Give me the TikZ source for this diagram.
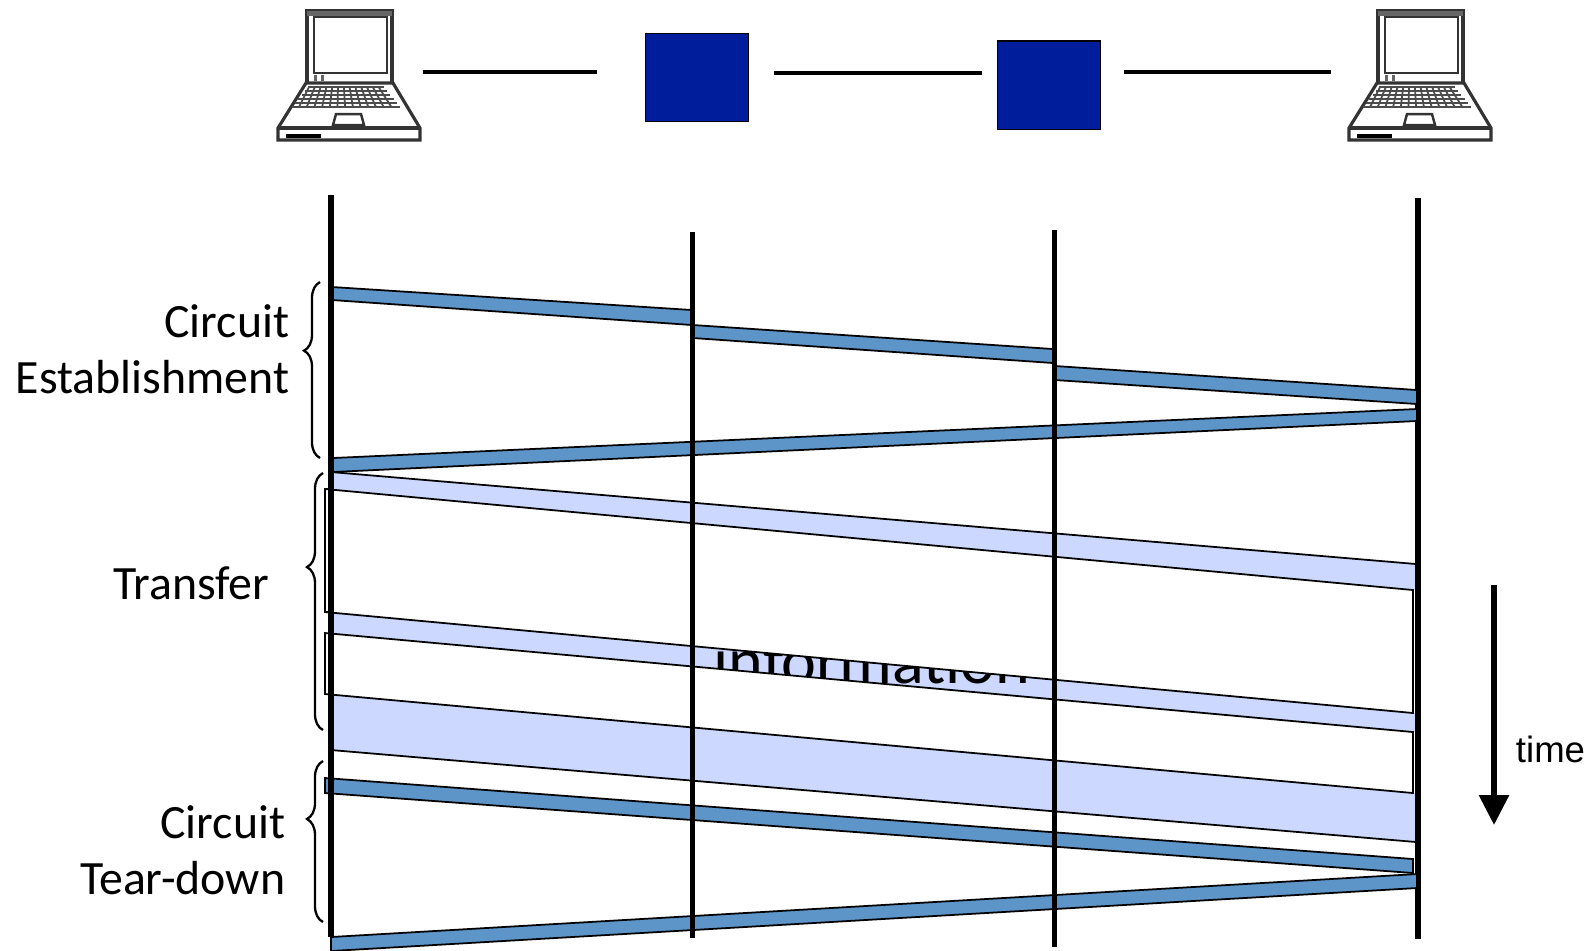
\documentclass[tikz,border=0pt]{standalone}
\usepackage{fontspec}
\setmainfont{Carlito}[Ligatures=NoCommon]
\newfontfamily\timefont{Liberation Sans}
\usetikzlibrary{arrows.meta,decorations.pathreplacing}
\definecolor{ctrlblue}{HTML}{5E95C9}
\definecolor{datablue}{HTML}{CCD8FF}
\definecolor{switchblue}{HTML}{001E9C}
\tikzset{
    x=0.01cm, y=-0.01cm,
    lifeline/.style={line width=1.55pt},
    link/.style={line width=1.15pt},
    band/.style={draw, line width=0.5pt, fill=ctrlblue},
    gapbox/.style={draw, line width=0.5pt},
    bracket/.style={decorate, line width=0.65pt, decoration={brace, amplitude=1.6mm, aspect=#1}},
    switchbox/.style={draw, line width=0.3pt, fill=switchblue, inner sep=0pt, minimum width=1.03cm, minimum height=0.88cm},
    hostbox/.style={inner sep=0pt, minimum width=1.42cm, minimum height=1.24cm},
    label/.style={font=\fontsize{13.6}{15.9}\selectfont, align=right, anchor=east, inner sep=0pt}
}
% origin of the laptop is the left end of its front edge
\newcommand{\laptop}[1]{
    \begin{scope}[shift={(#1,0)}, draw=black!80]
        \draw[line width=0.9pt] (306,83) -- (306,11) -- (391,11) -- (391,83);
        \fill[black!60] (306,11) rectangle (391,16);
        \draw[line width=0.8pt, fill=white] (313,17) rectangle (386,73);
        \draw[line width=0.9pt] (305,83) -- (392,83) -- (419,128) -- (419,140) -- (277,140) -- (277,128) -- cycle;
        \draw[line width=0.9pt] (277,128) -- (419,128);
        \foreach \rowy in {87,91,95,99,103,107}
            \draw[black!70, line width=0.5pt] (307-\rowy/1.25+69.6,\rowy) -- (383+\rowy/1.25-69.6,\rowy);
        \foreach \keyx in {0,...,12}
            \draw[black!70, line width=0.5pt] (308+\keyx*5.8,87) -- (298+\keyx*7.7,107);
        \draw[line width=0.7pt] (332,125) -- (335,114) -- (360,114) -- (363,125) -- cycle;
        \fill (285,134) rectangle (320,138);
        \fill[black!60] (313,75) rectangle (316,81);
        \fill[black!60] (320,75) rectangle (323,81);
    \end{scope}
}
\begin{document}
\begin{tikzpicture}
    \useasboundingbox (0,0) rectangle (1591,950);

    % top row
    \laptop{1}
    \laptop{1072}
    \node[hostbox] (hostA) at (349,72) {};
    \node[hostbox] (hostB) at (1420,72) {};
    \node[switchbox] (switchA) at (697,77.5) {};
    \node[switchbox] (switchB) at (1049,85) {};
    \draw[link, shorten <=0.02cm, shorten >=0.48cm] (hostA.east) -- (hostA.east -| switchA.west);
    \draw[link, shorten <=0.25cm, shorten >=0.15cm] (switchA.east |- 0,73) -- (switchB.west |- 0,73);
    \draw[link, shorten <=0.23cm, shorten >=0.17cm] (switchB.east |- hostB.west) -- (hostB.west);

    % data, the text sits under the white gaps
    \fill[datablue] (331,472) -- (1416,564) -- (1416,842) -- (331,750) -- cycle;
    \draw[gapbox] (331,472) -- (1416,564);
    \draw[gapbox] (331,750) -- (1416,842);
    \node[font=\fontsize{18.8}{21}\selectfont, anchor=base] (datatext) at (872,683) {information};
    \fill[white] (325,489) -- (1415,590) -- (1415,713) -- (325,612) -- cycle;
    \fill[white] (325,633) -- (1415,732) -- (1415,793) -- (325,694) -- cycle;
    \draw[gapbox] (331,489) -- (325,489) -- (325,612) -- (331,612);
    \draw[gapbox] (325,489) -- (1413,590) -- (1413,713) -- (325,612);
    \draw[gapbox] (325,633) -- (1413,732) -- (1413,793) -- (325,694) -- cycle;

    \draw[lifeline] (1418,198) -- (1418,939);

    % control messages
    \draw[band] (332,287) -- (692,310) -- (692,325) -- (332,300) -- cycle;
    \draw[band] (693,325) -- (1053,349) -- (1053,363) -- (693,338) -- cycle;
    \draw[band] (1055,366) -- (1417,390) -- (1417,404) -- (1055,380) -- cycle;
    \draw[band] (333,458) -- (1417,409) -- (1417,421) -- (333,472) -- cycle;
    \draw[band] (325,778) -- (1413,859) -- (1413,873) -- (325,793) -- cycle;
    \draw[band] (331,937) -- (1417,874) -- (1417,888) -- (331,951) -- cycle;

    \draw[lifeline] (331,195) -- (331,937);
    \draw[lifeline] (692.5,232) -- (692.5,938);
    \draw[lifeline] (1054.5,230) -- (1054.5,947);

    % phases
    \draw[bracket=0.61] (320,458) -- (320,282);
    \draw[bracket=0.634] (323,730) -- (323,473);
    \draw[bracket=0.64] (323,922) -- (323,761);
    \node[label] (setup) at (290,349) {Circuit\\Establishment};
    \node[label] (transfer) at (270,583) {Transfer};
    \node[label] (teardown) at (286,850) {Circuit\\Tear-down};

    % time axis
    \coordinate (timestart) at (1494,585);
    \coordinate (timeend) at (1494,825);
    \draw[line width=1.7pt, -{Triangle[width=2.9mm, length=3mm]}] (timestart) -- (timeend);
    \node[font=\timefont\fontsize{10.4}{13}\selectfont, anchor=base] (timelabel) at (1550.5,762) {time};
\end{tikzpicture}
\end{document}
